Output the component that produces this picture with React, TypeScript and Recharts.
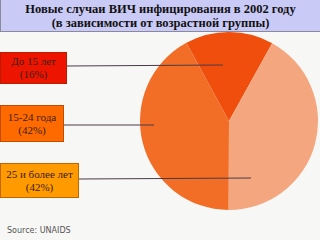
import { Cell, Pie, PieChart } from "recharts";

const groups = ["До 15 лет", "15-24 года", "25 и более лет"];
const shares = [16, 42, 42];
const sliceColors = ["#F04E0C", "#F26E26", "#F4A77E"];
const boxColors = ["#EE1500", "#FF6A00", "#FF9A00"];

const data = groups.map((name, i) => ({ name, value: shares[i] }));

// label boxes + leader lines (annotation layer)
const boxes = [
  { left: 0, top: 52, width: 67, height: 32 },
  { left: 0, top: 105, width: 64, height: 37 },
  { left: 0, top: 163, width: 79, height: 35 }
];
const leaders = [
  { x1: 67, y1: 66, x2: 223, y2: 65 },
  { x1: 64, y1: 125, x2: 154, y2: 125 },
  { x1: 79, y1: 179, x2: 251, y2: 178 }
];

export default function App() {
  return (
    <div
      style={{
        position: "fixed",
        left: 0,
        top: 0,
        width: 320,
        height: 240,
        background: "#F7F7F5",
        overflow: "hidden"
      }}
    >
      <PieChart width={320} height={240} margin={{ top: 0, right: 0, bottom: 0, left: 0 }}>
        <Pie
          data={data}
          dataKey="value"
          nameKey="name"
          cx={229}
          cy={121}
          outerRadius={89}
          startAngle={61}
          endAngle={421}
          stroke="none"
          isAnimationActive={false}
        >
          {data.map((d, i) => (
            <Cell key={d.name} fill={sliceColors[i]} />
          ))}
        </Pie>
      </PieChart>

      <svg width={320} height={240} style={{ position: "absolute", left: 0, top: 0 }}>
        {leaders.map((l, i) => (
          <line key={i} {...l} stroke="#4a3a48" strokeWidth={1} />
        ))}
      </svg>

      {boxes.map((b, i) => (
        <div
          key={groups[i]}
          style={{
            position: "absolute",
            ...b,
            boxSizing: "border-box",
            background: boxColors[i],
            border: "1px solid rgba(120,40,0,0.45)",
            display: "flex",
            flexDirection: "column",
            alignItems: "center",
            justifyContent: "center",
            fontFamily: "'Liberation Serif', 'Times New Roman', serif",
            fontSize: 11,
            lineHeight: "13px",
            color: "#3a2010"
          }}
        >
          <div>{groups[i]}</div>
          <div>({shares[i]}%)</div>
        </div>
      ))}

      <div
        style={{
          position: "absolute",
          left: 0,
          top: 0,
          width: 320,
          height: 32,
          boxSizing: "border-box",
          background: "#CACAF6",
          borderLeft: "1px solid #8a8a9a",
          borderBottom: "1px solid #8a8a9a",
          display: "flex",
          flexDirection: "column",
          alignItems: "center",
          justifyContent: "center",
          fontFamily: "'Liberation Serif', 'Times New Roman', serif",
          fontWeight: "bold",
          fontSize: 12.5,
          lineHeight: "14px",
          color: "#111"
        }}
      >
        <div>Новые случаи ВИЧ инфицирования в 2002 году</div>
        <div>(в зависимости от возрастной группы)</div>
      </div>

      <div
        style={{
          position: "absolute",
          left: 7,
          top: 226,
          fontFamily: "'DejaVu Sans', 'Noto Sans', sans-serif",
          fontSize: 8,
          color: "#555"
        }}
      >
        Source: UNAIDS
      </div>
    </div>
  );
}
